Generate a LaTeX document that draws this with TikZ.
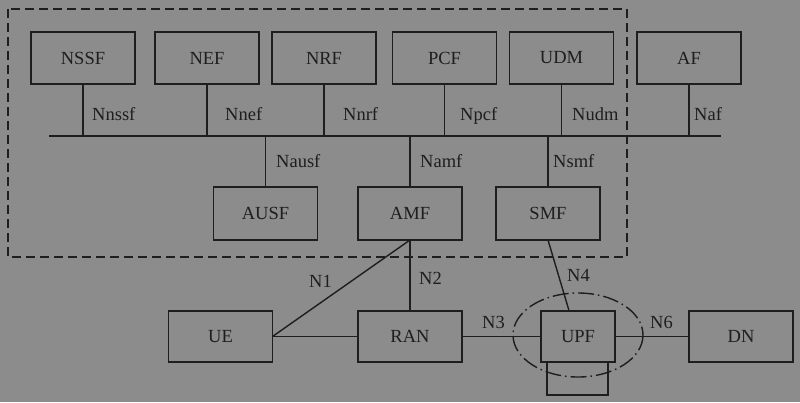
\documentclass[tikz,border=0pt]{standalone}
\usepackage{fontspec}
\setmainfont{Liberation Serif}
\usetikzlibrary{calc}
\definecolor{bgc}{RGB}{140,140,140}
\definecolor{ink}{RGB}{30,30,30}
\begin{document}
\begin{tikzpicture}[x=1pt,y=-1pt,
  ln/.style={draw=ink, line width=1.4pt},
  box/.style={ln, minimum width=104pt, minimum height=52pt, inner sep=0pt, outer sep=0pt,
    font=\fontsize{18.5}{20}\selectfont, text=ink},
  lbl/.style={font=\fontsize{18.5}{20}\selectfont, text=ink, inner sep=0pt, anchor=base west},
  region/.style={draw=ink, line width=1.4pt, dash pattern=on 9pt off 5pt},
  ring/.style={draw=ink, line width=1.4pt, dash pattern=on 16pt off 4pt on 1.5pt off 4pt}]
\fill[bgc] (0,0) rectangle (800,402);
\useasboundingbox (0,0) rectangle (800,402);
% dashed core region
\draw[region] (8,9) rectangle (627,257);
% top row
\node[box] (nssf) at (83,58) {NSSF};
\node[box] (nef) at (207,58) {NEF};
\node[box] (nrf) at (324,58) {NRF};
\node[box] (pcf) at (444.5,58) {PCF};
\node[box] (udm) at (561.5,58) {UDM};
\node[box] (af) at (689,58) {AF};
% middle row
\node[box, minimum height=53pt] (ausf) at (265.5,213.5) {AUSF};
\node[box, minimum height=53pt] (amf) at (410,213.5) {AMF};
\node[box, minimum height=53pt] (smf) at (548,213.5) {SMF};
% bottom row
\node[box, minimum height=51pt] (ue) at (220.5,336.5) {UE};
\node[box, minimum height=51pt] (ran) at (410,336.5) {RAN};
\node[box, minimum width=61pt, minimum height=33pt] (upfb) at (577.5,378.5) {};
\node[box, minimum width=74pt, minimum height=51pt] (upf) at (578,336.5) {UPF};
\node[box, minimum height=51pt] (dn) at (741,336.5) {DN};
% bus
\coordinate (busL) at (49,136);
\coordinate (busR) at (721,136);
\draw[ln] (busL) -- (busR);
\foreach \n in {nssf,nef,nrf,pcf,udm,af}{\draw[ln] (\n.south) -- (\n.south |- busL);}
\foreach \n in {ausf,amf,smf}{\draw[ln] (\n.north) -- (\n.north |- busL);}
% reference points
\draw[ln] (ue.east) -- (ran.west);
\draw[ln] (ue.east) -- (amf.south);
\draw[ln] (amf.south) -- (ran.north);
\draw[ln] (ran.east) -- (upf.west);
\draw[ln] (upf.east) -- (dn.west);
\draw[ln] (smf.south) -- ($(upf.north west)!0.38!(upf.north east)$);
\draw[ring] (578,335) ellipse [x radius=65, y radius=42];
% labels
\node[lbl] (lnssf) at (92,120) {Nnssf};
\node[lbl] (lnef) at (225,120) {Nnef};
\node[lbl] (lnrf) at (343,120) {Nnrf};
\node[lbl] (lpcf) at (460,120) {Npcf};
\node[lbl] (ludm) at (572,120) {Nudm};
\node[lbl] (laf) at (694,120) {Naf};
\node[lbl] (lausf) at (276,167) {Nausf};
\node[lbl] (lamf) at (420,167) {Namf};
\node[lbl] (lsmf) at (553,167) {Nsmf};
\node[lbl] (ln1) at (309,287) {N1};
\node[lbl] (ln2) at (419,284) {N2};
\node[lbl] (ln3) at (482,328) {N3};
\node[lbl] (ln4) at (567,281) {N4};
\node[lbl] (ln6) at (650,328) {N6};
\end{tikzpicture}
\end{document}
